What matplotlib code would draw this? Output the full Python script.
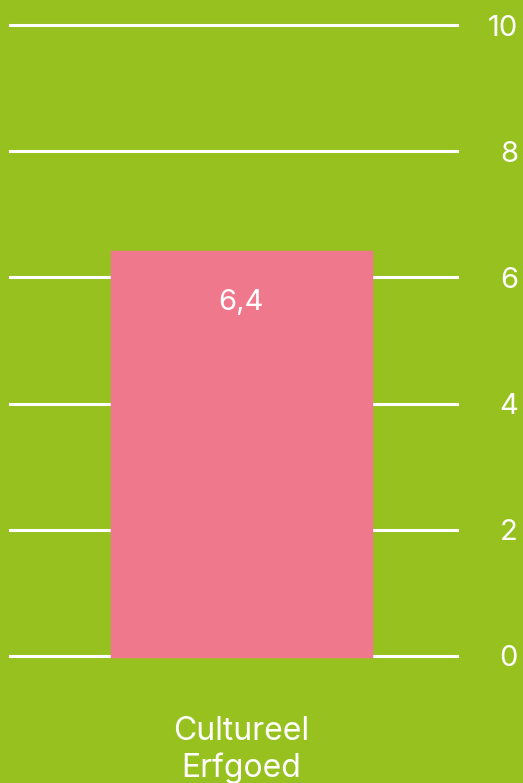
import matplotlib.pyplot as plt

plt.rcParams['font.family'] = ['Inter', 'DejaVu Sans']

# data
categories = ['Cultureel\nErfgoed']
values = [6.4]
value_labels = ['6,4']
yticks = [0, 2, 4, 6, 8, 10]

green = '#96c11f'
pink = '#f0788c'

fig = plt.figure(figsize=(5.23, 7.83), dpi=100, facecolor=green)
ax = fig.add_axes([10 / 523, 127 / 783, 447 / 523, 631 / 783])
ax.set_facecolor(green)

for y in yticks:
    ax.axhline(y, color='white', linewidth=2.2, zorder=1, clip_on=False)

x = list(range(len(categories)))
ax.bar(x, values, width=0.59, color=pink, edgecolor=pink, linewidth=2.5,
       zorder=2, clip_on=False)

for xi, v, lab in zip(x, values, value_labels):
    ax.text(xi, v - 0.8, lab, ha='center', va='center', color='white', fontsize=21, zorder=3)

ax.set_xlim(-0.528, 0.492)
ax.set_ylim(0, 10)
ax.set_yticks(yticks)
ax.set_yticklabels([str(t) for t in yticks], ha='right')
ax.yaxis.tick_right()
ax.tick_params(axis='y', length=0, pad=44, labelcolor='white', labelsize=21)
ax.set_xticks(x)
ax.set_xticklabels(categories)
ax.tick_params(axis='x', length=0, pad=43, labelcolor='white', labelsize=23)
for lbl in ax.get_xticklabels():
    lbl.set_linespacing(1.22)
for s in ax.spines.values():
    s.set_visible(False)

fig.savefig('out.png', dpi=100, facecolor=green)
